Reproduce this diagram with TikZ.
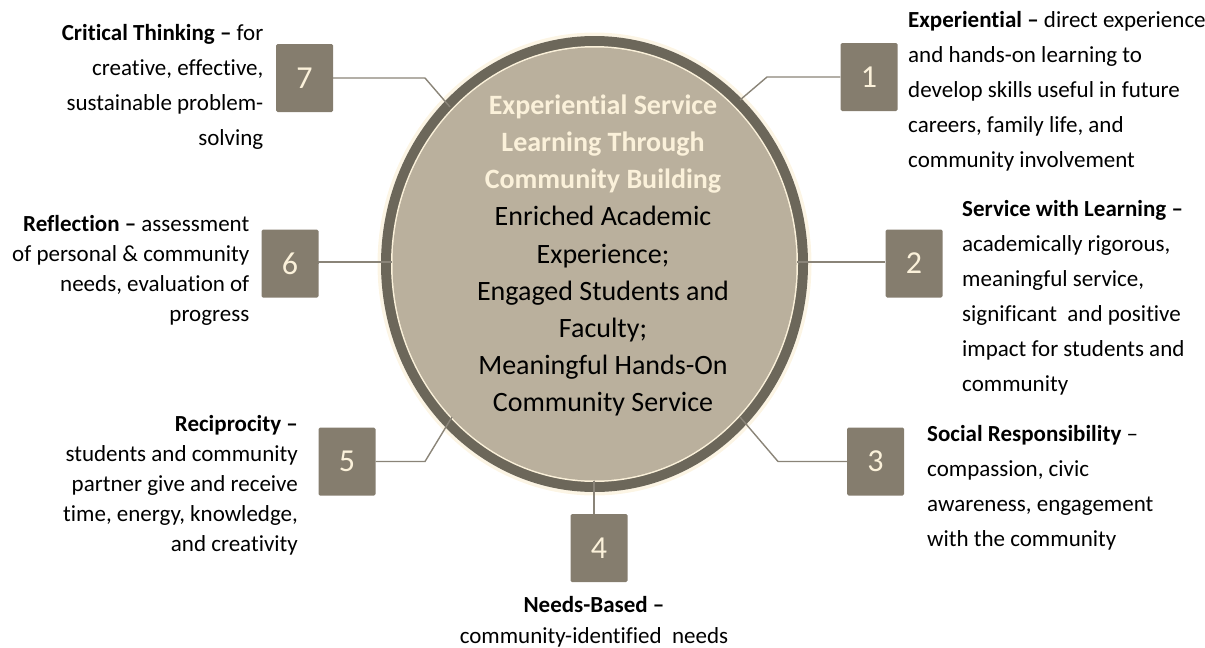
\documentclass[tikz,border=0pt]{standalone}
\usepackage{fontspec}
\setmainfont{Carlito}[Ligatures={NoCommon}]
\definecolor{ringdark}{HTML}{6C675A}
\definecolor{discfill}{HTML}{BAB09D}
\definecolor{creamc}{HTML}{FBF1DA}
\definecolor{boxfill}{HTML}{857D6E}
\definecolor{connc}{HTML}{8A8478}
\begin{document}
\begin{tikzpicture}[x=1pt,y=-1pt,
  numbox/.style={fill=boxfill, rounded corners=1.5pt, minimum width=57pt, minimum height=68pt,
     inner sep=0pt, text=creamc, font={\fontsize{32}{32}\selectfont}},
  conn/.style={draw=connc, line width=1.4pt},
  sidetext/.style={inner sep=0pt, font={\fontsize{23}{35}\selectfont}, text=black},
  sidetextb/.style={inner sep=0pt, font={\fontsize{23}{30}\selectfont}, text=black},
  centertext/.style={inner sep=0pt, align=center, font={\fontsize{28}{37.2}\selectfont}}
]
\useasboundingbox (0,0) rectangle (1205,648);

% central disc
\fill[creamc, opacity=0.7] (594.5,264) ellipse [x radius=217, y radius=231.5];
\fill[ringdark] (594.5,264) ellipse [x radius=213.5, y radius=228];
\fill[creamc] (594.5,264) ellipse [x radius=203.5, y radius=218];
\fill[discfill] (594.5,264) ellipse [x radius=202, y radius=216.5];
\node[coordinate] (disc) at (594.5,264) {};

% anchor points on the ring
\coordinate (c7) at (450,107);
\coordinate (c1) at (740,100);
\coordinate (c6) at (392,262);
\coordinate (c2) at (797,262);
\coordinate (c5) at (452,417);
\coordinate (c3) at (740,417);
\coordinate (c4) at (594,481);
% bend points
\coordinate (k7) at (425,78);
\coordinate (k1) at (767,77);
\coordinate (k5) at (425,461.5);
\coordinate (k3) at (778,461.5);

% numbered boxes
\node[numbox] (b7) at (304.5,78) {7};
\node[numbox] (b1) at (869,77) {1};
\node[numbox] (b6) at (290,263.5) {6};
\node[numbox] (b2) at (914,263.5) {2};
\node[numbox] (b5) at (347,461.5) {5};
\node[numbox] (b3) at (875.5,461.5) {3};
\node[numbox] (b4) at (599,548) {4};

% connectors
\draw[conn] (b7.east) -- (k7) -- (c7);
\draw[conn] (b1.west) -- (k1) -- (c1);
\draw[conn] (b6.east) -- (c6 -| b6.east) -- (c6);
\draw[conn] (c2) -- (c2 -| b2.west);
\draw[conn] (b5.east) -- (k5) -- (c5);
\draw[conn] (b3.west) -- (k3) -- (c3);
\draw[conn] (c4) -- (c4 |- b4.north);

% centre text
\node[centertext, anchor=north] (ctext) at (603,94.5) {%
  \textcolor{creamc}{\textbf{Experiential Service}}\\
  \textcolor{creamc}{\textbf{Learning Through}}\\
  \textcolor{creamc}{\textbf{Community Building}}\\
  Enriched Academic\\
  Experience;\\
  Engaged Students and\\
  Faculty;\\
  Meaningful Hands-On\\
  Community Service};

% side texts
\node[sidetext, align=right, anchor=north east] (t7) at (263.5,24) {%
  \textbf{Critical Thinking –} for\\
  creative, effective,\\
  sustainable problem-\\
  solving};
\node[sidetextb, align=right, anchor=north east] (t6) at (249.5,215) {%
  \textbf{Reflection –} assessment\\
  of personal \& community\\
  needs, evaluation of\\
  progress};
\node[sidetextb, align=right, anchor=north east] (t5) at (298,415) {%
  \textbf{Reciprocity –}\\
  students and community\\
  partner give and receive\\
  time, energy, knowledge,\\
  and creativity};
\node[sidetext, align=left, anchor=north west] (t1) at (908,11) {%
  \textbf{Experiential –} direct experience\\
  and hands-on learning to\\
  develop skills useful in future\\
  careers, family life, and\\
  community involvement};
\node[sidetext, align=left, anchor=north west] (t2) at (962,200) {%
  \textbf{Service with Learning –}\\
  academically rigorous,\\
  meaningful service,\\
  significant~ and positive\\
  impact for students and\\
  community};
\node[sidetext, align=left, anchor=north west] (t3) at (927,425) {%
  \textbf{Social Responsibility} –\\
  compassion, civic\\
  awareness, engagement\\
  with the community};
\node[inner sep=0pt, align=center, anchor=north, font={\fontsize{23}{31}\selectfont}] (t4) at (594,596) {%
  \textbf{Needs-Based –}\\
  community-identified~ needs};
\end{tikzpicture}
\end{document}
